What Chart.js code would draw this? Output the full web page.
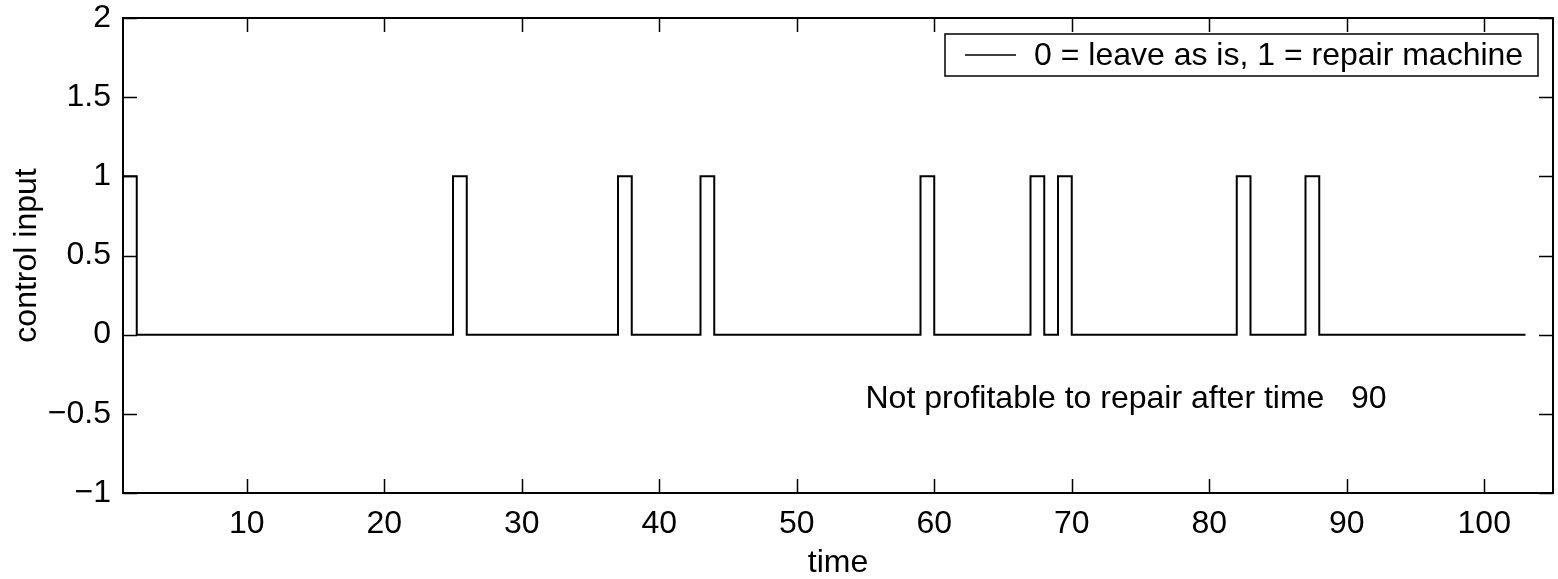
<!DOCTYPE html>
<html>
<head>
    <meta charset="utf-8" />
    <title>Control input over time</title>
    <script src="https://cdn.jsdelivr.net/npm/chart.js@4/dist/chart.umd.js"></script>
    <style>
        html, body { margin: 0; padding: 0; background: #fff; }
        #wrap { width: 1558px; height: 579px; }
    </style>
</head>
<body>
    <div id="wrap"><canvas id="myChart" width="1558" height="579"></canvas></div>
    <script>
        // step points: value holds from this time until the next one
        var stepTimes = [1, 2, 25, 26, 37, 38, 43, 44, 59, 60, 67, 68, 69, 70, 82, 83, 87, 88, 103];
        var stepValues = [1, 0, 1, 0, 1, 0, 1, 0, 1, 0, 1, 0, 1, 0, 1, 0, 1, 0, 0];
        var xTicks = [10, 20, 30, 40, 50, 60, 70, 80, 90, 100];
        var yTicks = [-1, -0.5, 0, 0.5, 1, 1.5, 2];
        var seriesLabel = '0 = leave as is, 1 = repair machine';
        var noteText = 'Not profitable to repair after time   90';
        var notePos = { x: 55, y: -0.46 };

        var FONT = '"Liberation Sans", Arial, Helvetica, sans-serif';
        var FSIZE = 32;

        function minus(v) {
            return String(v).replace('-', '\u2212');
        }

        // box, inside ticks, legend and the text note
        var matlabLook = {
            id: 'matlabLook',
            afterDraw: function (chart) {
                var ctx = chart.ctx;
                var a = chart.chartArea;
                var xs = chart.scales.x, ys = chart.scales.y;
                var tl = 14;
                ctx.save();
                ctx.strokeStyle = '#000';
                ctx.lineWidth = 1.5;
                ctx.beginPath();
                xTicks.forEach(function (t) {
                    var px = Math.round(xs.getPixelForValue(t)) + 0.5;
                    ctx.moveTo(px, a.bottom); ctx.lineTo(px, a.bottom - tl);
                    ctx.moveTo(px, a.top); ctx.lineTo(px, a.top + tl);
                });
                yTicks.forEach(function (t) {
                    var py = Math.round(ys.getPixelForValue(t)) + 0.5;
                    ctx.moveTo(a.left, py); ctx.lineTo(a.left + tl, py);
                    ctx.moveTo(a.right, py); ctx.lineTo(a.right - tl, py);
                });
                ctx.stroke();

                ctx.lineWidth = 2;
                ctx.strokeRect(a.left, a.top, a.right - a.left, a.bottom - a.top);

                // legend
                var lx = 945, ly = 34, lw = 593, lh = 42;
                ctx.fillStyle = '#fff';
                ctx.fillRect(lx, ly, lw, lh);
                ctx.lineWidth = 1.5;
                ctx.strokeRect(lx, ly, lw, lh);
                ctx.beginPath();
                ctx.moveTo(965, ly + lh / 2);
                ctx.lineTo(1016, ly + lh / 2);
                ctx.stroke();
                ctx.fillStyle = '#000';
                ctx.font = FSIZE + 'px ' + FONT;
                ctx.textBaseline = 'middle';
                ctx.textAlign = 'left';
                ctx.fillText(seriesLabel, 1034, ly + lh / 2 + 1);

                // note
                ctx.textBaseline = 'alphabetic';
                ctx.fillText(noteText, xs.getPixelForValue(notePos.x), ys.getPixelForValue(notePos.y));
                ctx.restore();
            }
        };

        new Chart(document.getElementById('myChart'), {
            type: 'line',
            data: {
                datasets: [{
                    label: seriesLabel,
                    data: stepTimes.map(function (t, i) { return { x: t, y: stepValues[i] }; }),
                    stepped: 'before',
                    borderColor: '#000',
                    borderWidth: 2,
                    pointRadius: 0,
                    fill: false
                }]
            },
            options: {
                responsive: false,
                animation: false,
                devicePixelRatio: 1,
                layout: { padding: { left: 0, right: 5, top: 0, bottom: 0 } },
                plugins: {
                    legend: { display: false },
                    tooltip: { enabled: false }
                },
                scales: {
                    x: {
                        type: 'linear',
                        min: 1,
                        max: 105,
                        afterBuildTicks: function (s) { s.ticks = xTicks.map(function (v) { return { value: v }; }); },
                        afterFit: function (s) { s.height = 86; },
                        grid: { display: false },
                        border: { display: false },
                        ticks: {
                            color: '#000',
                            padding: 4,
                            maxRotation: 0,
                            autoSkip: false,
                            font: { family: FONT, size: FSIZE }
                        },
                        title: {
                            display: true,
                            text: 'time',
                            color: '#000',
                            padding: { top: 0, bottom: 0 },
                            font: { family: FONT, size: FSIZE, lineHeight: 1 }
                        }
                    },
                    y: {
                        min: -1,
                        max: 2,
                        afterBuildTicks: function (s) { s.ticks = yTicks.map(function (v) { return { value: v }; }); },
                        afterFit: function (s) { s.width = 123; },
                        grid: { display: false },
                        border: { display: false },
                        ticks: {
                            color: '#000',
                            padding: 4,
                            autoSkip: false,
                            font: { family: FONT, size: FSIZE, lineHeight: 0.875 },
                            callback: function (v) { return minus(v); }
                        },
                        title: {
                            display: true,
                            text: 'control input',
                            color: '#000',
                            padding: { top: 8, bottom: 0 },
                            font: { family: FONT, size: FSIZE }
                        }
                    }
                }
            },
            plugins: [matlabLook]
        });
    </script>
</body>
</html>
